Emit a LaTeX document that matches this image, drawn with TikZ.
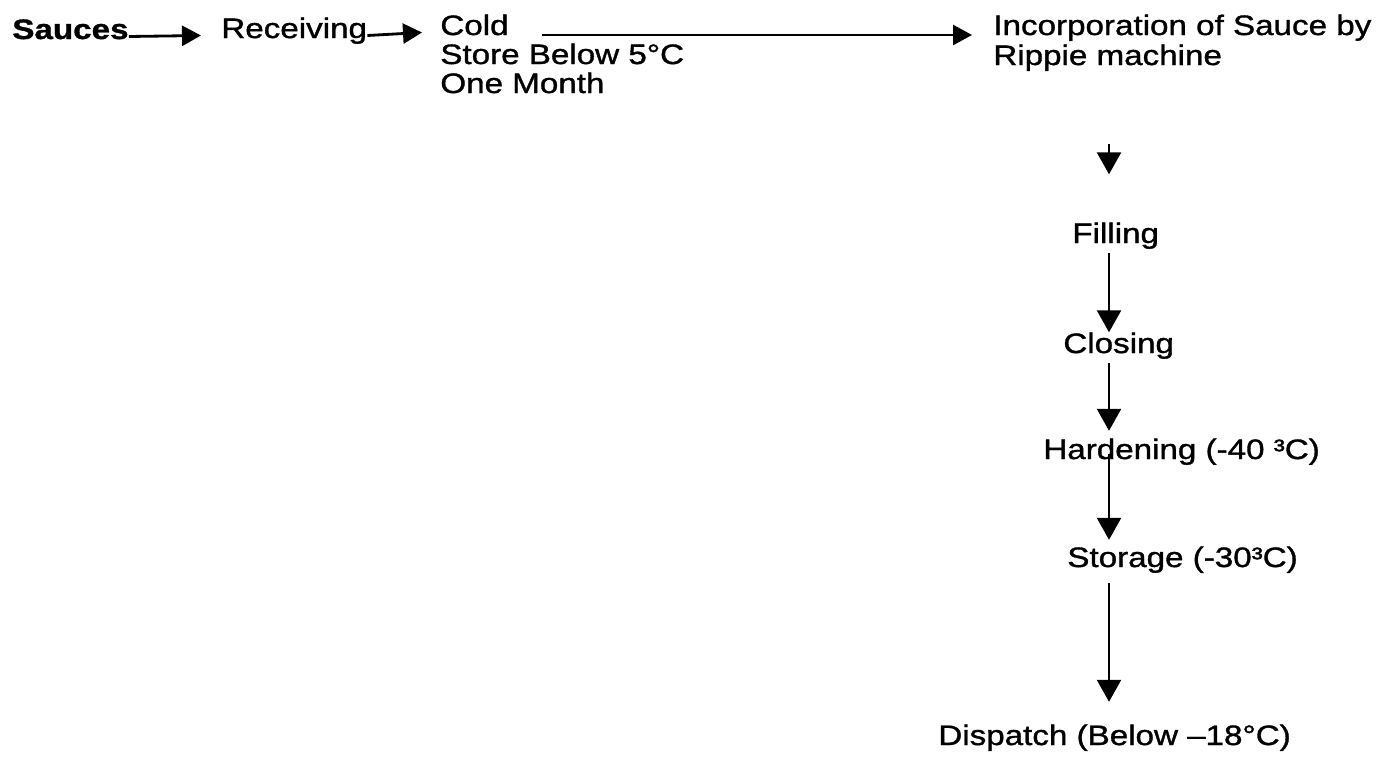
\documentclass[tikz,border=0pt]{standalone}
\usepackage{fontspec}
\setmainfont[FakeStretch=1.18,FakeBold=1.2]{Liberation Sans}
\usetikzlibrary{positioning,arrows.meta}

\begin{document}
\begin{tikzpicture}[x=0.02cm,y=-0.02cm,
  step label/.style={anchor=base west, inner sep=0pt, font=\fontsize{16}{16.5}\selectfont},
  flow/.style={line width=1.6pt, -{Triangle[length=0.38cm,width=0.40cm]}},
  drop/.style={line width=1.4pt, -{Triangle[length=0.44cm,width=0.48cm]}}]
\useasboundingbox (0,0) rectangle (1395,758);
\node[step label, font=\fontsize{16}{16.5}\selectfont\bfseries] (sauces) at (12,39) {Sauces};
\node[step label] (receiving) at (221,38) {Receiving};
\node[step label] (cold) at (440,35) {Cold};
\node[step label] (store) at (440,64) {Store Below 5°C};
\node[step label] (month) at (440,93) {One Month};
\node[step label] (incorp) at (993,35) {Incorporation of Sauce by};
\node[step label] (rippie) at (993,65) {Rippie machine};
\node[step label] (filling) at (1072,243) {Filling};
\node[step label] (closing) at (1063,353) {Closing};
\node[step label] (hardening) at (1043,459) {Hardening (-40 ³C)};
\node[step label] (storage) at (1067,567) {Storage (-30³C)};
\node[step label] (dispatch) at (938,745) {Dispatch (Below –18°C)};
\coordinate (spine) at (1109,0);
\draw[flow] ([yshift=0.05cm]sauces.base east) -- ([xshift=-0.4cm,yshift=0.05cm]receiving.base west);
\draw[flow] ([yshift=0.05cm]receiving.base east) -- ([xshift=-0.36cm,yshift=0.05cm]cold.base west);
\draw[flow] ([xshift=0.66cm]cold.base east) -- ([xshift=-0.42cm]incorp.base west);
\draw[drop] ([yshift=-1.46cm]rippie.south -| spine) -- ([yshift=0.96cm]filling.north -| spine);
\draw[drop] ([yshift=-0.08cm]filling.south -| spine) -- (closing.north -| spine);
\draw[drop] ([yshift=-0.08cm]closing.south -| spine) -- ([yshift=0.15cm]hardening.north -| spine);
\draw[drop] ([yshift=0.22cm]hardening.south -| spine) -- ([yshift=0.13cm]storage.north -| spine);
\draw[drop] ([yshift=-0.2cm]storage.south -| spine) -- ([yshift=0.45cm]dispatch.north -| spine);
\end{tikzpicture}
\end{document}
